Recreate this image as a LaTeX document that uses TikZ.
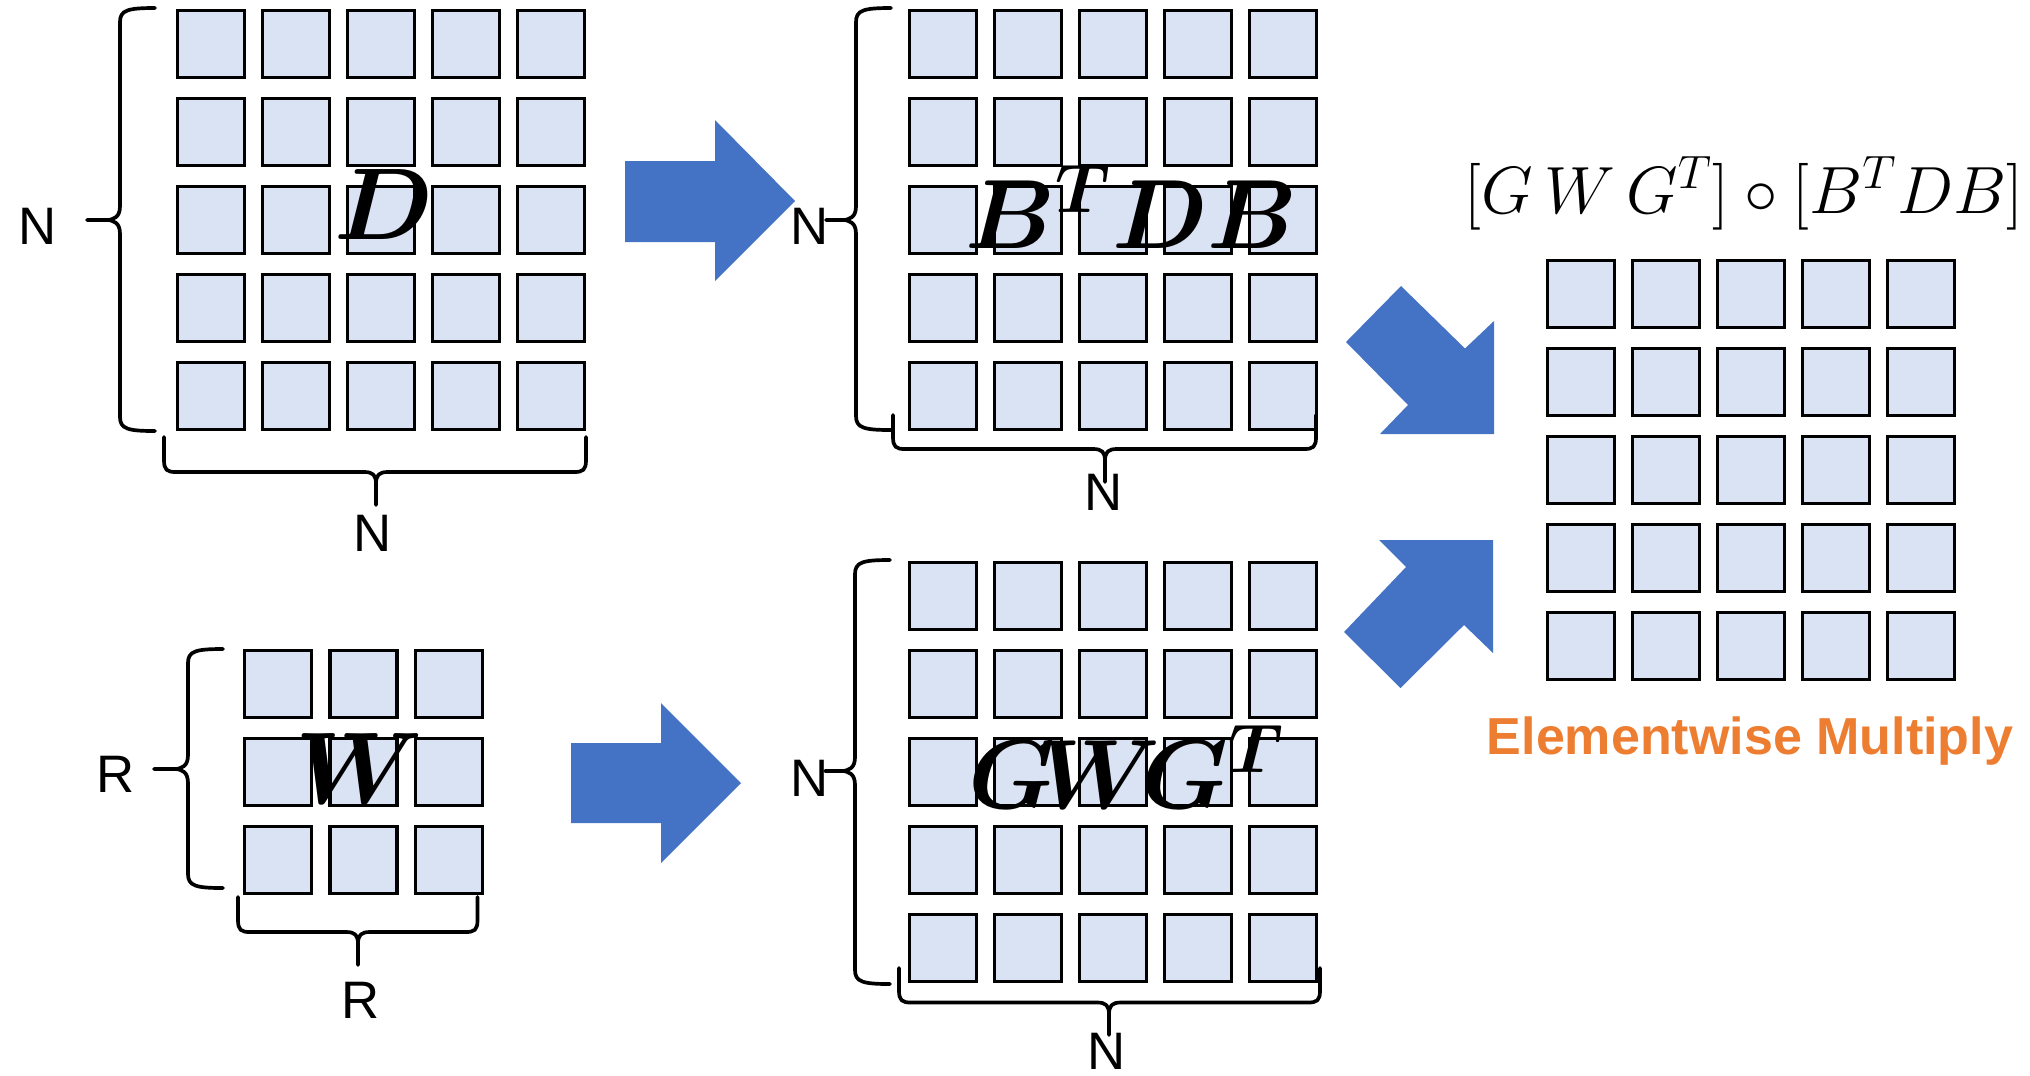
\RequirePackage{fix-cm}
\documentclass[tikz,border=0pt]{standalone}
\usepackage{amsmath}
\usepackage[no-math]{fontspec}
\setmainfont{Liberation Sans}
\definecolor{cellblue}{HTML}{DAE3F3}
\definecolor{arrowblue}{HTML}{4472C4}
\definecolor{orangeC}{HTML}{ED7D31}
\tikzset{
  cell/.style={draw=black, line width=1.1pt, fill=cellblue, minimum size=0.67cm, inner sep=0pt},
  brace/.style={draw=black, line width=1.05pt, line join=round, line cap=round},
  bigarrow/.style={fill=arrowblue, draw=none},
  lbl/.style={inner sep=0pt, font=\fontsize{15}{18}\selectfont},
  biglbl/.style={inner sep=0pt, font=\fontsize{29}{34}\selectfont},
  formlbl/.style={inner sep=0pt, font=\fontsize{19}{23}\selectfont},
}
% left brace: linex, tipx, top, bottom, mid, midtip
\newcommand{\mybraceL}[6]{%
  \draw[brace] (#2,#3) .. controls (#1+8,#3) and (#1,#3+2) .. (#1,#3+14)
    -- (#1,#5-14) .. controls (#1,#5-3) and (#1-6,#5) .. (#1-14,#5) -- (#6,#5);
  \draw[brace] (#1-14,#5) .. controls (#1-6,#5) and (#1,#5+3) .. (#1,#5+14)
    -- (#1,#4-14) .. controls (#1,#4-2) and (#1+8,#4) .. (#2,#4);
}
% bottom brace: endy, liney, tipy, leftx, rightx, midx
\newcommand{\mybraceB}[6]{%
  \draw[brace] (#4,#1) -- (#4,#2-12) .. controls (#4,#2-2) and (#4+3,#2) .. (#4+12,#2)
    -- (#6-12,#2) .. controls (#6-3,#2) and (#6,#2+3) .. (#6,#2+12) -- (#6,#3);
  \draw[brace] (#6,#2+12) .. controls (#6,#2+3) and (#6+3,#2) .. (#6+12,#2)
    -- (#5-12,#2) .. controls (#5-3,#2) and (#5,#2-2) .. (#5,#2-12) -- (#5,#1);
}
\begin{document}
\begin{tikzpicture}[x=0.01cm, y=-0.01cm]
\useasboundingbox (0,0) rectangle (2030,1075);

% D grid
\foreach \i in {1,...,5}{\foreach \j in {1,...,5}{
  \node[cell] (d\i\j) at ({211+85*(\j-1)},{44+88*(\i-1)}) {};}}
% BTDB grid
\foreach \i in {1,...,5}{\foreach \j in {1,...,5}{
  \node[cell] (b\i\j) at ({943+85*(\j-1)},{44+88*(\i-1)}) {};}}
% GWGT grid
\foreach \i in {1,...,5}{\foreach \j in {1,...,5}{
  \node[cell] (g\i\j) at ({943+85*(\j-1)},{596+88*(\i-1)}) {};}}
% result grid
\foreach \i in {1,...,5}{\foreach \j in {1,...,5}{
  \node[cell] (r\i\j) at ({1581+85*(\j-1)},{294+88*(\i-1)}) {};}}
% W grid
\foreach \i in {1,...,3}{\foreach \j in {1,...,3}{
  \node[cell] (w\i\j) at ({278+85.5*(\j-1)},{684+88*(\i-1)}) {};}}

% braces
\mybraceL{120}{155}{8}{431}{220}{87}
\mybraceB{437}{472}{505}{164}{586}{376}
\mybraceL{856}{891}{8}{430}{220}{826}
\mybraceB{415}{449}{482}{893}{1316}{1105}
\mybraceL{188}{223}{649}{888}{769}{154}
\mybraceB{897}{932}{965}{238}{477.5}{358}
\mybraceL{855}{890}{560}{984}{771}{825}
\mybraceB{968}{1002.5}{1035}{899}{1320}{1109}

% arrows
\fill[bigarrow] (625,161) -- (715,161) -- (715,120) -- (795,201) -- (715,281) -- (715,242) -- (625,242) -- cycle;
\fill[bigarrow] (571,743) -- (661,743) -- (661,703) -- (741,783) -- (661,863) -- (661,823) -- (571,823) -- cycle;
\fill[bigarrow] (1401,286) -- (1465,348.5) -- (1494,321) -- (1494,434) -- (1380,434) -- (1408,405) -- (1346,342) -- cycle;
\fill[bigarrow] (1379,540) -- (1493,540) -- (1493,653) -- (1464,625) -- (1400.5,688) -- (1344,632) -- (1406,567) -- cycle;

% dimension labels
\node[lbl] (nD1) at (38,226) {N};
\node[lbl] (nD2) at (373,533) {N};
\node[lbl] (nB1) at (810,226) {N};
\node[lbl] (nB2) at (1104,492) {N};
\node[lbl] (nW1) at (116,774) {R};
\node[lbl] (nW2) at (361,1000) {R};
\node[lbl] (nG1) at (810,778) {N};
\node[lbl] (nG2) at (1107,1051) {N};

% matrix labels
\node[biglbl] (lD) at (384,205) {$\boldsymbol{D}$};
\node[biglbl, anchor=base, font=\fontsize{28}{33}\selectfont] (lB) at (1132,248) {$\boldsymbol{B^{T}DB}$};
\node[biglbl, anchor=base] (lW) at (359,803) {$\boldsymbol{W}$};
\node[biglbl, anchor=base, font=\fontsize{28}{33}\selectfont] (lG) at (1127,808) {$\boldsymbol{G\!W\!G^{T}}$};

% formula and caption
\node[formlbl, anchor=base] (lF) at (1744,213) {$[G\,W\,G^{T}]\circ[B^{T}DB]$};
\node[inner sep=0pt, anchor=base, font=\fontsize{14.8}{18}\selectfont\bfseries, text=orangeC] (lE) at (1750,754) {Elementwise Multiply};
\end{tikzpicture}
\end{document}
